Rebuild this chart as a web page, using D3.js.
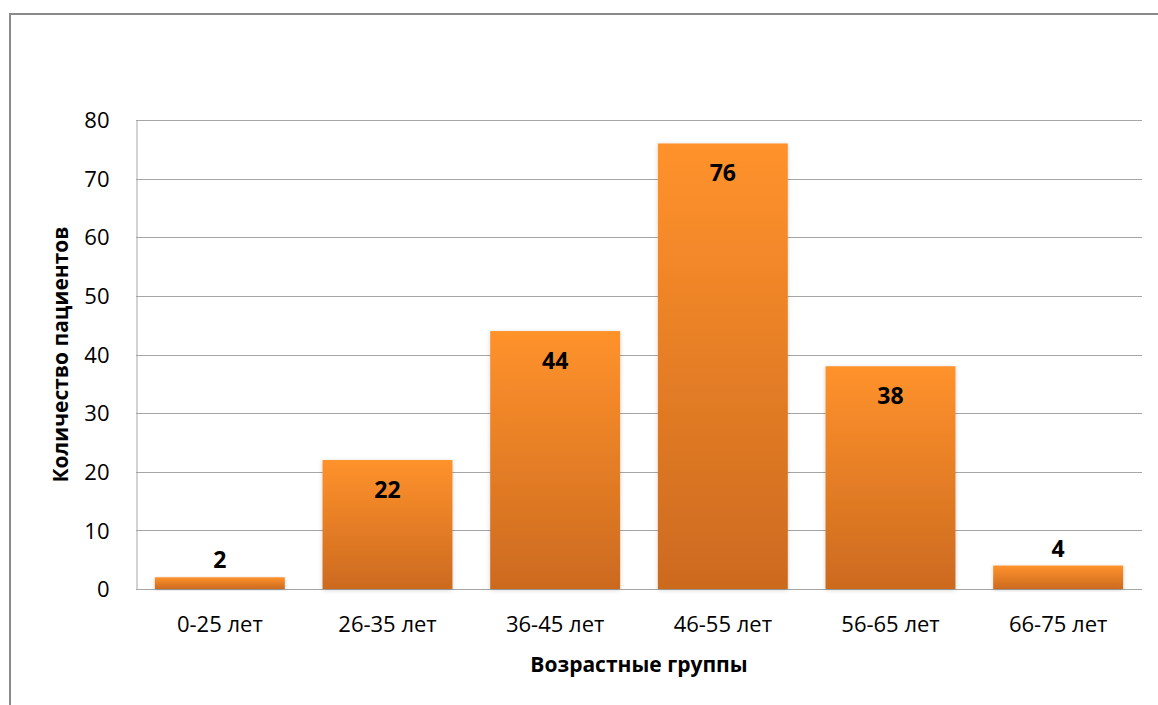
<!DOCTYPE html>
<html>
<head>
<meta charset="utf-8">
<script src="https://cdn.jsdelivr.net/npm/d3@7"></script>
<style>
  html, body { margin: 0; padding: 0; background: #fff; }
  svg { display: block; }
  text { font-family: "Open Sans", "Noto Sans", sans-serif; fill: #000; }
</style>
</head>
<body>
<svg id="chart" width="1158" height="705"></svg>
<script>
// Age groups and patient counts
const categories = ["0-25 лет", "26-35 лет", "36-45 лет", "46-55 лет", "56-65 лет", "66-75 лет"];
const patients = [2, 22, 44, 76, 38, 4];
const yTicks = [0, 10, 20, 30, 40, 50, 60, 70, 80];
const yTitle = "Количество пациентов";
const xTitle = "Возрастные группы";

const svg = d3.select("#chart");
const W = 1158, H = 705;
const plot = { left: 136, right: 1142, top: 120, bottom: 589 };

// Outer chart frame (extends past the right and bottom edges)
svg.append("rect")
  .attr("x", 10).attr("y", 14)
  .attr("width", W + 20).attr("height", H + 20)
  .attr("fill", "#fff")
  .attr("stroke", "#8a8a8a").attr("stroke-width", 2);

const x = d3.scaleBand()
  .domain(categories)
  .range([plot.left, plot.right])
  .paddingInner(0.225)
  .paddingOuter(0.1125);

const y = d3.scaleLinear()
  .domain([0, 80])
  .range([plot.bottom, plot.top]);

// Bar gradient and soft shadow
const defs = svg.append("defs");
const grad = defs.append("linearGradient")
  .attr("id", "barGrad")
  .attr("x1", 0).attr("y1", 0).attr("x2", 0).attr("y2", 1);
grad.append("stop").attr("offset", "0%").attr("stop-color", "#ff922c");
grad.append("stop").attr("offset", "100%").attr("stop-color", "#cc6a1f");

const shadow = defs.append("filter").attr("id", "barShadow")
  .attr("x", "-10%").attr("y", "-10%").attr("width", "120%").attr("height", "120%");
shadow.append("feDropShadow")
  .attr("dx", 0).attr("dy", 1).attr("stdDeviation", 2)
  .attr("flood-color", "#000").attr("flood-opacity", 0.18);

// Horizontal gridlines
svg.append("g")
  .selectAll("line")
  .data(yTicks.filter(d => d > 0))
  .join("line")
  .attr("x1", plot.left).attr("x2", plot.right)
  .attr("y1", d => Math.round(y(d)) + 0.5)
  .attr("y2", d => Math.round(y(d)) + 0.5)
  .attr("stroke", "#a6a6a6").attr("stroke-width", 1);

// Y axis
const yAxis = svg.append("g")
  .attr("transform", `translate(${plot.left + 0.5},0)`)
  .call(d3.axisLeft(y).tickValues(yTicks).tickSize(0).tickPadding(27));
yAxis.select(".domain").attr("stroke", "#a6a6a6").attr("stroke-width", 1);
yAxis.selectAll("text")
  .style("font-family", "'Open Sans', sans-serif")
  .attr("font-size", 22).attr("fill", "#000")
  .attr("dy", "0.35em");

// X axis
const xAxis = svg.append("g")
  .attr("transform", `translate(0,${plot.bottom + 0.5})`)
  .call(d3.axisBottom(x).tickSize(0).tickPadding(27));
xAxis.select(".domain").attr("stroke", "#a6a6a6").attr("stroke-width", 1)
  .attr("d", `M${plot.left},0H${plot.right}`);
xAxis.selectAll("text")
  .style("font-family", "'Open Sans', sans-serif")
  .attr("font-size", 22).attr("fill", "#000");

// Bars
svg.append("g")
  .selectAll("rect")
  .data(patients)
  .join("rect")
  .attr("x", (d, i) => x(categories[i]))
  .attr("y", d => y(d))
  .attr("width", x.bandwidth())
  .attr("height", d => y(0) - y(d))
  .attr("fill", "url(#barGrad)")
  .attr("filter", "url(#barShadow)");

// Value labels: inside the top of tall bars, above short ones
svg.append("g")
  .selectAll("text")
  .data(patients)
  .join("text")
  .attr("x", (d, i) => x(categories[i]) + x.bandwidth() / 2)
  .attr("y", d => (y(0) - y(d) < 40) ? y(d) - 9 : y(d) + 38)
  .attr("text-anchor", "middle")
  .attr("font-size", 23)
  .attr("font-weight", "bold")
  .text(d => d);

// Axis titles
svg.append("text")
  .attr("transform", `translate(68,${(plot.top + plot.bottom) / 2}) rotate(-90)`)
  .attr("text-anchor", "middle")
  .attr("font-size", 21)
  .attr("font-weight", "bold")
  .text(yTitle);

svg.append("text")
  .attr("x", (plot.left + plot.right) / 2)
  .attr("y", 672)
  .attr("text-anchor", "middle")
  .attr("font-size", 21)
  .attr("font-weight", "bold")
  .text(xTitle);
</script>
</body>
</html>
